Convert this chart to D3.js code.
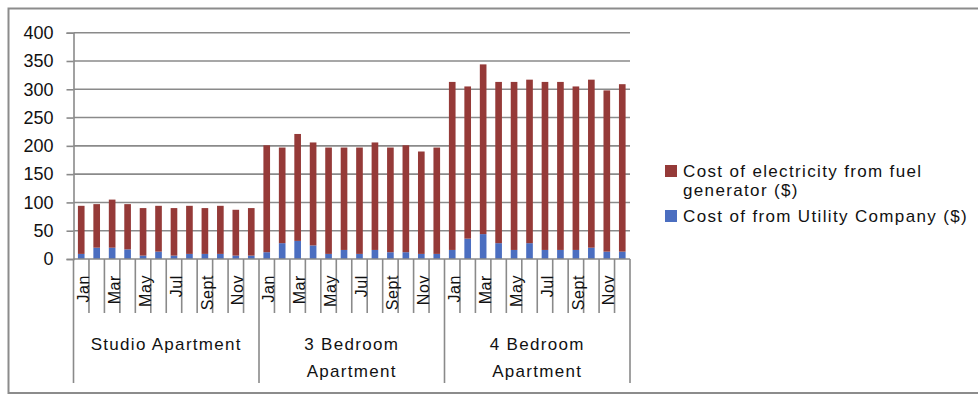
<!DOCTYPE html>
<html><head><meta charset="utf-8">
<script src="https://cdn.jsdelivr.net/npm/d3@7"></script>
<style>body{margin:0;background:#fff}svg{display:block}text{font-family:"Liberation Sans",Arial,sans-serif;fill:#111}</style>
</head><body><svg id="c" width="978" height="395"></svg>
<script>
const groups = ["Studio Apartment", "3 Bedroom|Apartment", "4 Bedroom|Apartment"];
const months = ["Jan","Feb","Mar","Apr","May","Jun","Jul","Aug","Sept","Oct","Nov","Dec"];
const monthLabels = ["Jan","","Mar","","May","","Jul","","Sept","","Nov",""];
const seriesNames = ["Cost of electricity from fuel generator ($)", "Cost of from Utility Company ($)"];
// Utility company cost per month, per apartment type
const utilityStudio = [9,20,20,17,6,13,6,9,9,9,6,6];
const utility3Bed   = [12,28,32,24,9,16,9,16,12,12,9,9];
const utility4Bed   = [16,36,44,28,16,28,16,16,16,20,13,13];
// Fuel generator cost per month, per apartment type
const fuelStudio = [85,77,85,80,84,81,84,85,81,85,81,84];
const fuel3Bed   = [189,169,189,182,188,181,188,190,185,189,181,188];
const fuel4Bed   = [297,269,300,285,297,289,297,297,289,297,285,296];
const yTicks = [0,50,100,150,200,250,300,350,400];

const utility = [utilityStudio, utility3Bed, utility4Bed];
const fuel = [fuelStudio, fuel3Bed, fuel4Bed];
const data = [];
groups.forEach((g,gi)=>months.forEach((m,mi)=>data.push({key:gi+"-"+mi, g:gi, m:mi, util:utility[gi][mi], fuel:fuel[gi][mi]})));

const svg = d3.select("#c");
const red = "#953a38", blue = "#4b6ec0", grid = "#8a8a8a";
svg.append("rect").attr("x",8.5).attr("y",8.5).attr("width",1000).attr("height",384.5).attr("fill","none").attr("stroke","#8c8c8c").attr("stroke-width",2);

const x = d3.scaleBand().domain(data.map(d=>d.key)).range([73.5,630]).paddingInner(0.57).paddingOuter(0.285);
const y = d3.scaleLinear().domain([0,400]).range([259,32.7]);

// gridlines
svg.append("g").selectAll("line").data(yTicks.slice(1)).join("line")
  .attr("x1",73.5).attr("x2",630).attr("y1",d=>y(d)).attr("y2",d=>y(d))
  .attr("stroke",grid).attr("stroke-width",1.6);

// y axis
const ya = svg.append("g").attr("transform","translate(73.5,0)")
  .call(d3.axisLeft(y).tickValues(yTicks).tickSize(7).tickPadding(13));
ya.select(".domain").attr("stroke",grid).attr("stroke-width",1.6);
ya.selectAll(".tick line").attr("stroke",grid).attr("stroke-width",1.6);
ya.selectAll(".tick text").attr("font-size",18).attr("fill","#111").attr("font-family","Liberation Sans, Arial, sans-serif");

// bars
const stack = d3.stack().keys(["util","fuel"])(data);
const colors = {util:blue, fuel:red};
svg.append("g").selectAll("g").data(stack).join("g").attr("fill",s=>colors[s.key])
  .selectAll("rect").data(s=>s).join("rect")
  .attr("x",d=>x(d.data.key)).attr("width",x.bandwidth())
  .attr("y",d=>y(d[1])).attr("height",d=>y(d[0])-y(d[1]));

// x axis baseline
svg.append("line").attr("x1",73.5).attr("x2",630).attr("y1",259).attr("y2",259).attr("stroke",grid).attr("stroke-width",1.6);

// category separators
const step = x.step();
const xa = svg.append("g");
data.forEach((d,i)=>{
  const left = x(d.key) - x.paddingInner()*step/2;
  const isGroup = d.m===0;
  xa.append("line").attr("x1",left).attr("x2",left).attr("y1",259).attr("y2",isGroup?383:313)
    .attr("stroke",grid).attr("stroke-width",1.6);
});
xa.append("line").attr("x1",630).attr("x2",630).attr("y1",259).attr("y2",383).attr("stroke",grid).attr("stroke-width",1.6);

// month labels
xa.selectAll("text.m").data(data.filter(d=>monthLabels[d.m])).join("text").attr("class","m")
  .attr("transform",d=>`translate(${x(d.key)+x.bandwidth()/2+2},275) rotate(-90)`)
  .attr("text-anchor","end").attr("dy","0.35em").attr("font-size",16).attr("letter-spacing",0.6)
  .text(d=>monthLabels[d.m]);

// group labels
groups.forEach((g,gi)=>{
  const first = x(gi+"-0") - x.paddingInner()*step/2;
  const cx = first + step*6;
  const t = xa.append("text").attr("x",cx).attr("y",350).attr("text-anchor","middle").attr("font-size",17).attr("letter-spacing",1.3);
  g.split("|").forEach((ln,li)=>t.append("tspan").attr("x",cx).attr("y",350+li*26.5).text(ln));
});

// legend
const lg = svg.append("g");
lg.append("rect").attr("x",665).attr("y",165).attr("width",12).attr("height",12).attr("fill",red);
const t1 = lg.append("text").attr("font-size",17).attr("letter-spacing",1.35);
t1.append("tspan").attr("x",683).attr("y",176.5).text("Cost of electricity from fuel");
t1.append("tspan").attr("x",683).attr("y",196).text("generator ($)");
lg.append("rect").attr("x",665).attr("y",210).attr("width",12).attr("height",12).attr("fill",blue);
lg.append("text").attr("font-size",17).attr("letter-spacing",1.35).attr("x",683).attr("y",221.7).text(seriesNames[1]);
</script></body></html>
